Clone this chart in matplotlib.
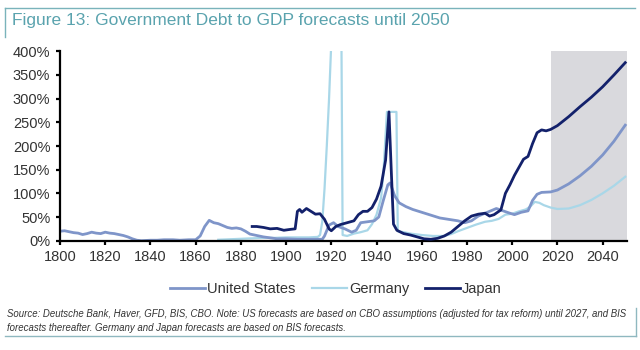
import matplotlib
matplotlib.use("Agg")
import matplotlib.pyplot as plt
from matplotlib.lines import Line2D

plt.rcParams['font.family'] = ['Liberation Sans', 'DejaVu Sans']

# United States debt/GDP (%)
us_years = [1800, 1802, 1804, 1806, 1808, 1810, 1812, 1814, 1816, 1818, 1820, 1822, 1824,
            1826, 1828, 1830, 1832, 1834, 1836, 1840, 1843, 1846, 1850, 1853, 1857, 1860,
            1862, 1864, 1866, 1868, 1870, 1872, 1874, 1876, 1878, 1880, 1882, 1884, 1886,
            1888, 1890, 1893, 1896, 1900, 1905, 1910, 1914, 1916, 1917, 1919, 1921, 1923,
            1926, 1929, 1931, 1933, 1936, 1939, 1941, 1943, 1945, 1946, 1948, 1950, 1953,
            1956, 1960, 1964, 1968, 1972, 1976, 1979, 1982, 1985, 1988, 1990, 1993, 1996,
            1999, 2001, 2004, 2007, 2009, 2011, 2013, 2017, 2020, 2025, 2030, 2035, 2040,
            2045, 2050]
us_vals = [20, 21, 19, 17, 16, 13, 15, 18, 16, 15, 18, 16, 15,
           13, 11, 8, 4, 1, 0, 1, 1, 2, 2, 1, 2, 2,
           10, 30, 43, 38, 36, 32, 28, 26, 27, 25, 20, 14, 12,
           10, 8, 6, 4, 4, 3, 3, 3, 3, 10, 33, 38, 30,
           25, 18, 22, 38, 40, 42, 50, 85, 118, 122, 95, 80, 72,
           66, 60, 54, 48, 45, 42, 38, 42, 52, 58, 62, 68, 63,
           58, 55, 60, 63, 85, 98, 102, 103, 107, 120, 137, 157, 181,
           210, 244]

# Germany debt/GDP (%), hyperinflation spike runs off the top of the chart
de_years = [1870, 1875, 1880, 1885, 1890, 1895, 1900, 1905, 1910, 1914, 1915, 1916, 1917,
            1918, 1919, 1920, 1921, 1922, 1923, 1924, 1925, 1927, 1930, 1933, 1936, 1938,
            1940, 1942, 1943, 1944.6, 1948.8, 1949.4, 1952, 1955, 1960, 1965, 1970, 1973,
            1976, 1980, 1984, 1988, 1991, 1994, 1997, 2000, 2003, 2006, 2008, 2010, 2012,
            2014, 2017, 2020, 2025, 2030, 2035, 2040, 2045, 2050]
de_vals = [2, 3, 4, 5, 6, 6, 7, 7, 7, 8, 12, 40, 110,
           200, 300, 420, 600, 1000, 1500, 800, 12, 10, 15, 18, 22, 35,
           55, 90, 140, 272, 272, 20, 18, 15, 12, 10, 10, 14,
           20, 27, 34, 40, 42, 46, 55, 57, 62, 66, 72, 82, 80,
           75, 70, 67, 68, 75, 86, 100, 116, 135]

# Japan debt/GDP (%)
jp_years = [1885, 1887, 1890, 1893, 1896, 1899, 1902, 1904, 1905, 1906, 1907, 1909, 1911,
            1913, 1915, 1917, 1919, 1920, 1922, 1924, 1927, 1930, 1932, 1934, 1936, 1938,
            1940, 1942, 1944, 1945.5, 1946.5, 1947.5, 1949, 1952, 1955, 1958, 1961, 1964,
            1967, 1970, 1973, 1976, 1979, 1982, 1985, 1988, 1990, 1992, 1995, 1997, 1999,
            2001, 2003, 2005, 2007, 2009, 2011, 2013, 2015, 2017, 2020, 2025, 2030, 2035,
            2040, 2045, 2050]
jp_vals = [30, 30, 28, 25, 26, 22, 24, 25, 62, 66, 60, 68, 62,
           56, 57, 45, 25, 21, 30, 34, 38, 42, 55, 62, 62, 70,
           88, 115, 170, 272, 150, 35, 22, 15, 12, 8, 4, 3,
           5, 10, 18, 30, 42, 52, 56, 58, 52, 55, 65, 100, 118,
           138, 155, 172, 178, 205, 228, 234, 232, 235, 243, 262, 283, 303,
           325, 350, 376]

forecast_start, forecast_end = 2017, 2051
x_ticks = list(range(1800, 2041, 20))
y_ticks = list(range(0, 401, 50))

fig = plt.figure(figsize=(6.4, 3.5), dpi=100)
fig.patch.set_facecolor('white')
ax = fig.add_axes([60 / 640, 109.3 / 350, 567.5 / 640, 189.4 / 350])

ax.axvspan(forecast_start, forecast_end, color='#d9d9dd', lw=0, zorder=0)
ax.plot(us_years, us_vals, color='#7f95c9', lw=2.0, label='United States', zorder=2)
ax.plot(de_years, de_vals, color='#a9d7e8', lw=1.6, label='Germany', zorder=1)
ax.plot(jp_years, jp_vals, color='#13216b', lw=2.0, label='Japan', zorder=3)

ax.set_xlim(1800, 2051)
ax.set_ylim(0, 400)
ax.set_xticks(x_ticks)
ax.set_yticks(y_ticks)
ax.set_yticklabels([f'{v}%' for v in y_ticks])
for s in ['top', 'right']:
    ax.spines[s].set_visible(False)
for s in ['left', 'bottom']:
    ax.spines[s].set_linewidth(1.6)
    ax.spines[s].set_color('black')
ax.tick_params(axis='both', direction='out', length=3, width=1.6, labelsize=10.5,
               labelcolor='#333333', pad=4)

leg = fig.legend(loc='center', bbox_to_anchor=(336 / 640, 1 - 289 / 350), ncol=3,
                 frameon=False, fontsize=10.5, handlelength=2.4, handletextpad=0.15,
                 columnspacing=1.1)
for t in leg.get_texts():
    t.set_color('#333333')

# title block
teal = '#5aa3ae'
fig.add_artist(Line2D([5 / 640, 635 / 640], [1 - 8 / 350, 1 - 8 / 350], color='#7ab3bb', lw=1.0))
fig.add_artist(Line2D([5 / 640, 5 / 640], [1 - 8 / 350, 1 - 37 / 350], color='#7ab3bb', lw=1.0))
fig.text(12 / 640, 1 - 21 / 350, 'Figure 13: Government Debt to GDP forecasts until 2050',
         color=teal, fontsize=12.5, va='center', ha='left')

# source block
fig.text(7 / 640, 1 - 321 / 350,
         'Source: Deutsche Bank, Haver, GFD, BIS, CBO. Note: US forecasts are based on CBO '
         'assumptions (adjusted for tax reform) until 2027, and BIS\n'
         'forecasts thereafter. Germany and Japan forecasts are based on BIS forecasts.',
         fontsize=6.9, style='italic', color='#333333', va='center', ha='left', linespacing=1.4)
fig.add_artist(Line2D([5 / 640, 636 / 640], [1 - 336 / 350, 1 - 336 / 350], color='#8fb8c0', lw=1.0))
fig.add_artist(Line2D([636 / 640, 636 / 640], [1 - 308 / 350, 1 - 336 / 350], color='#8fb8c0', lw=1.0))

fig.savefig('out.png', dpi=100)
